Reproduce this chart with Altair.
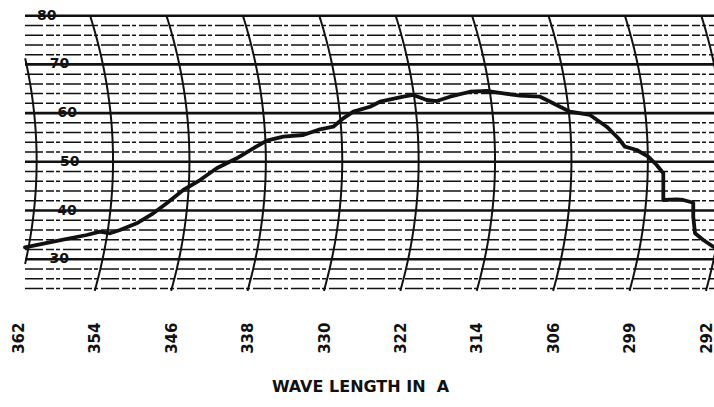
import altair as alt
import pandas as pd

# ---- data ----
wavelength_labels = ["362", "354", "346", "338", "330", "322", "314", "306", "299", "292"]
tick_positions = [0, 1, 2, 3, 4, 5, 6, 7, 8, 9]   # chart divisions (one per arc line)

# recorded trace: chart position in divisions (0 = the 362 line) and percent reading
trace_div = [0.085, 0.455, 0.893, 1.067, 1.198, 1.329, 1.547, 1.764, 1.940, 2.157,
             2.376, 2.594, 2.856, 3.073, 3.249, 3.466, 3.728, 3.946, 4.120, 4.251,
             4.382, 4.601, 4.731, 5.037, 5.168, 5.343, 5.474, 5.648, 5.910, 6.128,
             6.346, 6.564, 6.826, 6.914, 7.088, 7.219, 7.480, 7.699, 7.851, 7.938,
             8.092, 8.243, 8.353, 8.440, 8.440, 8.615, 8.702, 8.832, 8.832, 8.855,
             8.963, 9.094, 9.180]
trace_pct = [32.44, 33.59, 34.97, 35.65, 35.32, 36.00, 37.37, 39.43, 41.48, 44.21,
             46.26, 48.67, 50.72, 52.77, 54.33, 55.15, 55.50, 56.67, 57.21, 58.93,
             60.29, 61.31, 62.34, 63.37, 63.72, 62.69, 62.48, 63.37, 64.39, 64.54,
             64.07, 63.57, 63.37, 62.69, 61.31, 60.29, 59.61, 57.21, 54.83, 53.10,
             52.42, 51.05, 49.34, 47.64, 42.16, 42.30, 42.16, 41.60, 38.73, 35.32,
             33.94, 32.57, 32.10]

major_lines = [30, 40, 50, 60, 70, 80]
minor_lines = [24, 26, 28, 32, 34, 36, 38, 42, 44, 46, 48, 52, 54, 56, 58,
               62, 64, 66, 68, 72, 74, 76, 78]
scale_values = [80, 70, 60, 50, 40, 30]
scale_labels = ["80", "70", "60", "50", "40", "30"]

# ---- chart-paper geometry (grid drawing only) ----
PX_PER_DIV = 76.4
PX_PER_PCT = 4.87
Y80 = 15.7
W, H = 714, 300
X_DOMAIN = [-18.5 / PX_PER_DIV, (W - 18.5) / PX_PER_DIV]
Y_DOMAIN = [80 - (H - Y80) / PX_PER_PCT, 80 + Y80 / PX_PER_PCT]
LEFT_EDGE = (25 - 18.5) / PX_PER_DIV


def arc_offset(v):
    """Horizontal offset (divisions) of the curved time lines at a given reading."""
    y = Y80 + (80 - v) * PX_PER_PCT
    off = 23.13 - 0.001087 * (y - 161) ** 2
    return (off - 5) / PX_PER_DIV


arc_rows = []
for k in range(11):
    step = 0
    v = 80.0
    while v >= 23.3:
        d = k + arc_offset(v)
        if d >= LEFT_EDGE:
            arc_rows.append({"arc": k, "seq": step, "d": d, "v": v})
        step += 1
        v -= 0.25
arcs_df = pd.DataFrame(arc_rows)

minor_df = pd.DataFrame({"v": minor_lines, "x0": LEFT_EDGE, "x1": X_DOMAIN[1] + 0.1})
major_df = pd.DataFrame({"v": major_lines, "x0": LEFT_EDGE, "x1": X_DOMAIN[1] + 0.1})
label_df = pd.DataFrame({
    "v": scale_values,
    "t": scale_labels,
    "d": [arc_offset(v) + 33 / PX_PER_DIV for v in scale_values],
})
trace_df = pd.DataFrame({"d": trace_div, "v": trace_pct, "i": range(len(trace_div))})

label_expr = "[" + ",".join("'%s'" % s for s in wavelength_labels) + "][round(datum.value)]"

x_axis = alt.Axis(
    values=tick_positions, labelExpr=label_expr, labelAngle=270,
    labelFont="DejaVu Sans", labelFontWeight="bold", labelFontSize=15,
    labelColor="#111111", labelPadding=22, labelOverlap=False, labelFlush=False,
    labelBound=False, ticks=False, tickSize=0, domain=False, grid=False,
    title="WAVE LENGTH IN\u00a0 A", titleFont="DejaVu Sans", titleFontWeight="bold",
    titleFontSize=16, titleColor="#111111", titleX=360, titleY=91,
    titleAlign="center", titleBaseline="alphabetic",
)
x_scale = alt.Scale(domain=X_DOMAIN, nice=False, zero=False)
y_scale = alt.Scale(domain=Y_DOMAIN, nice=False, zero=False)

INK = "#111111"

minor = alt.Chart(minor_df).mark_rule(
    color=INK, strokeWidth=1.5, strokeDash=[18, 3, 8, 2, 4, 3], clip=True
).encode(
    x=alt.X("x0:Q", scale=x_scale, axis=x_axis),
    x2="x1:Q",
    y=alt.Y("v:Q", scale=y_scale, axis=None),
)

major = alt.Chart(major_df).mark_rule(
    color=INK, strokeWidth=2.6, clip=True
).encode(
    x=alt.X("x0:Q", scale=x_scale, axis=x_axis),
    x2="x1:Q",
    y=alt.Y("v:Q", scale=y_scale, axis=None),
)

arcs = alt.Chart(arcs_df).mark_line(
    color=INK, strokeWidth=2.0, clip=True
).encode(
    x=alt.X("d:Q", scale=x_scale, axis=x_axis),
    y=alt.Y("v:Q", scale=y_scale, axis=None),
    detail="arc:N",
    order="seq:Q",
)

labels = alt.Chart(label_df).mark_text(
    font="DejaVu Sans", fontWeight="bold", fontSize=14, color=INK,
    align="center", baseline="middle",
).encode(
    x=alt.X("d:Q", scale=x_scale, axis=x_axis),
    y=alt.Y("v:Q", scale=y_scale, axis=None),
    text="t:N",
)

trace = alt.Chart(trace_df).mark_line(
    color=INK, strokeWidth=3.8, strokeJoin="round", strokeCap="round", clip=True
).encode(
    x=alt.X("d:Q", scale=x_scale, axis=x_axis),
    y=alt.Y("v:Q", scale=y_scale, axis=None),
    order="i:Q",
)

chart = alt.layer(minor, major, arcs, labels, trace).properties(
    width=W, height=H, autosize="none",
    padding={"left": 0, "top": 0, "right": 0, "bottom": 107},
    background="white",
).configure_view(stroke=None)

chart.save("out.html", embed_options={"renderer": "svg", "actions": False})
